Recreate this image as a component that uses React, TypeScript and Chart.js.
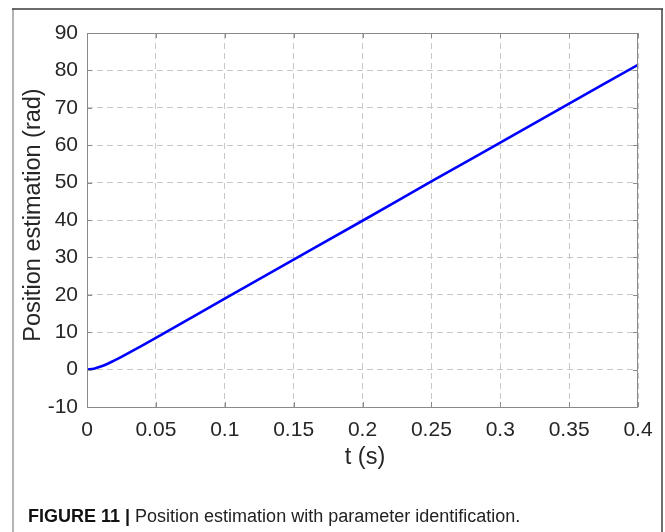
import React, { useEffect, useRef } from "react";
import { Chart, registerables } from "chart.js";

Chart.register(...registerables);

// Time samples (s) and estimated rotor position (rad)
const timeValues = [0, 0.005, 0.01, 0.015, 0.02, 0.025, 0.03, 0.04, 0.05, 0.1, 0.15, 0.2, 0.25, 0.3, 0.35, 0.4];
const positionValues = [0, 0.24, 0.81, 1.58, 2.46, 3.41, 4.4, 6.44, 8.5, 19.0, 29.4, 39.8, 50.3, 60.7, 71.1, 81.5];

const xTicks = [0, 0.05, 0.1, 0.15, 0.2, 0.25, 0.3, 0.35, 0.4];
const yTicks = [-10, 0, 10, 20, 30, 40, 50, 60, 70, 80, 90];

const xTitle = "t (s)";
const yTitle = "Position estimation (rad)";
const captionBold = "FIGURE 11 | ";
const captionText = "Position estimation with parameter identification.";

const FONT = "'Liberation Sans', Arial, Helvetica, sans-serif";
const AXIS_COLOR = "#8a8a8a";

const decorPlugin = {
  id: "figureDecor",
  beforeDraw(chart: any) {
    const ctx = chart.ctx;
    ctx.save();
    // figure frame
    ctx.strokeStyle = "#b4b4b4";
    ctx.lineWidth = 2;
    ctx.beginPath();
    ctx.moveTo(13, 9);
    ctx.lineTo(13, 532);
    ctx.stroke();
    ctx.strokeStyle = "#707070";
    ctx.beginPath();
    ctx.moveTo(662, 9);
    ctx.lineTo(662, 532);
    ctx.stroke();
    ctx.strokeStyle = "#3a3a3a";
    ctx.lineWidth = 1.5;
    ctx.beginPath();
    ctx.moveTo(12, 9);
    ctx.lineTo(663, 9);
    ctx.stroke();
    ctx.restore();
  },
  afterDraw(chart: any) {
    const ctx = chart.ctx;
    const area = chart.chartArea;
    const xs = chart.scales.x;
    const ys = chart.scales.y;
    ctx.save();
    // axes box
    ctx.strokeStyle = AXIS_COLOR;
    ctx.lineWidth = 1;
    ctx.strokeRect(area.left + 0.5, area.top + 0.5, area.right - area.left - 1, area.bottom - area.top);

    // inward tick marks on all four sides
    const tl = 5;
    ctx.beginPath();
    xTicks.forEach((v) => {
      const px = Math.round(xs.getPixelForValue(v)) + 0.5;
      ctx.moveTo(px, area.bottom);
      ctx.lineTo(px, area.bottom - tl);
      ctx.moveTo(px, area.top);
      ctx.lineTo(px, area.top + tl);
    });
    yTicks.forEach((v) => {
      const py = Math.round(ys.getPixelForValue(v)) + 0.5;
      ctx.moveTo(area.left, py);
      ctx.lineTo(area.left + tl, py);
      ctx.moveTo(area.right, py);
      ctx.lineTo(area.right - tl, py);
    });
    ctx.stroke();

    // axis titles
    ctx.fillStyle = "#262626";
    ctx.font = `23.5px ${FONT}`;
    ctx.textAlign = "center";
    ctx.textBaseline = "middle";
    ctx.fillText(xTitle, 365, 458);
    ctx.translate(34, 215);
    ctx.rotate(-Math.PI / 2);
    ctx.fillText(yTitle, 0, 0);
    ctx.setTransform(1, 0, 0, 1, 0, 0);

    // caption
    ctx.textAlign = "left";
    ctx.textBaseline = "alphabetic";
    ctx.fillStyle = "#111111";
    ctx.font = `bold 18px ${FONT}`;
    ctx.fillText(captionBold, 28, 522);
    const w = ctx.measureText(captionBold).width;
    ctx.font = `18px ${FONT}`;
    ctx.fillStyle = "#222222";
    ctx.fillText(captionText, 28 + w, 522);
    ctx.restore();
  },
};

export default function App() {
  const canvasRef = useRef<HTMLCanvasElement | null>(null);

  useEffect(() => {
    if (!canvasRef.current) return;
    const chart = new Chart(canvasRef.current, {
      type: "line",
      data: {
        datasets: [
          {
            data: timeValues.map((t, i) => ({ x: t, y: positionValues[i] })),
            borderColor: "#0000ff",
            borderWidth: 2.6,
            pointRadius: 0,
            cubicInterpolationMode: "monotone",
            fill: false,
          },
        ],
      },
      options: {
        animation: false,
        responsive: false,
        layout: { padding: { left: 0, top: 33, right: 27, bottom: 85 } },
        plugins: { legend: { display: false }, tooltip: { enabled: false } },
        scales: {
          x: {
            type: "linear",
            min: 0,
            max: 0.4,
            afterFit: (scale: any) => {
              scale.height = 40;
            },
            afterBuildTicks: (scale: any) => {
              scale.ticks = xTicks.map((v) => ({ value: v }));
            },
            ticks: {
              padding: 11,
              color: "#262626",
              font: { family: FONT, size: 21 },
              maxRotation: 0,
              callback: (v: any) => String(v),
            },
            grid: {
              drawTicks: false,
              color: "#c8c8c8",
              lineWidth: 1,
            },
            border: { display: false, dash: [6, 4] },
          },
          y: {
            type: "linear",
            min: -10,
            max: 90,
            afterFit: (scale: any) => {
              scale.width = 87;
            },
            afterBuildTicks: (scale: any) => {
              scale.ticks = yTicks.map((v) => ({ value: v }));
            },
            ticks: {
              padding: 9,
              color: "#262626",
              font: { family: FONT, size: 21 },
              callback: (v: any) => String(v),
            },
            grid: {
              drawTicks: false,
              color: "#c8c8c8",
              lineWidth: 1,
            },
            border: { display: false, dash: [6, 4] },
          },
        },
      },
      plugins: [decorPlugin],
    });
    return () => chart.destroy();
  }, []);

  return (
    <div style={{ position: "absolute", left: 0, top: 0, width: 665, height: 532, background: "#ffffff" }}>
      <canvas ref={canvasRef} width={665} height={532} />
    </div>
  );
}
